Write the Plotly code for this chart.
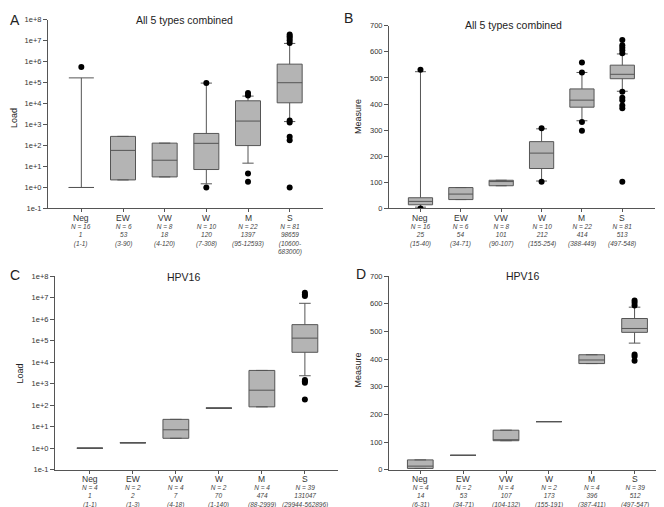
import plotly.graph_objects as go

# ============================================
# DATOS
# ============================================

CATS = ["Neg", "EW", "VW", "W", "M", "S"]

# --- Panel A: Load, todos los tipos ---
A_N = [16, 6, 8, 10, 22, 81]
A_MED_TXT = ["1", "53", "18", "120", "1397", "98659"]
A_RNG_TXT = ["(1-1)", "(3-90)", "(4-120)", "(7-308)", "(95-12593)", "(10600-|683000)"]
A_Q1 = [1, 2.3, 3.2, 7.2, 100, 1.1e4]
A_MED = [1, 59, 20, 128, 1480, 1.0e5]
A_Q3 = [1, 275, 131, 380, 1.37e4, 7.7e5]
A_LO = [1, 2.3, 3.2, 1.5, 14.5, 1400]
A_HI = [1.7e5, 275, 131, 9.6e4, 2.3e4, 7.5e6]
A_OUT = [[5.6e5], [], [], [9.8e4, 1.0], [3.2e4, 2.45e4, 4.7, 1.9],
         [2.0e7, 1.66e7, 1.38e7, 1.05e7, 7.8e6, 1580, 1260, 263, 182, 1.0]]

# --- Panel B: Measure, todos los tipos ---
B_N = [16, 6, 8, 10, 22, 81]
B_MED_TXT = ["25", "54", "101", "212", "414", "513"]
B_RNG_TXT = ["(15-40)", "(34-71)", "(90-107)", "(155-254)", "(388-449)", "(497-548)"]
B_Q1 = [14, 34, 87, 153, 388, 497]
B_MED = [27, 55, 103, 212, 415, 514]
B_Q3 = [41, 80, 108, 256, 458, 549]
B_LO = [5, 34, 87, 105, 336, 449]
B_HI = [524, 80, 108, 305, 521, 592]
B_OUT = [[531, 0], [], [], [307, 102], [559, 521, 331, 298],
         [645, 625, 616, 606, 595, 447, 424, 415, 394, 384, 102]]

# --- Panel C: Load, HPV16 ---
C_N = [4, 2, 4, 2, 4, 39]
C_MED_TXT = ["1", "2", "7", "70", "474", "131047"]
C_RNG_TXT = ["(1-1)", "(1-3)", "(4-18)", "(1-140)", "(88-2999)", "(29944-562896)"]
C_Q1 = [1, 1.8, 2.9, 73, 84, 2.9e4]
C_MED = [1, 1.8, 7.2, 73, 500, 1.32e5]
C_Q3 = [1, 1.8, 22, 73, 4150, 5.6e5]
C_LO = [1, 1.8, 2.9, 73, 84, 2350]
C_HI = [1, 1.8, 22, 73, 4150, 5.5e6]
C_OUT = [[], [], [], [], [], [1.7e7, 1.4e7, 1.2e7, 1480, 1300, 1100, 187]]

# --- Panel D: Measure, HPV16 ---
D_N = [4, 2, 4, 2, 4, 39]
D_MED_TXT = ["14", "53", "107", "173", "396", "512"]
D_RNG_TXT = ["(6-31)", "(34-71)", "(104-132)", "(155-191)", "(387-411)", "(497-547)"]
D_Q1 = [4.7, 52, 105, 174, 384, 497]
D_MED = [13, 52, 106, 174, 397, 511]
D_Q3 = [35.6, 52, 143, 174, 416, 547]
D_LO = [4.7, 52, 105, 174, 384, 458]
D_HI = [35.6, 52, 143, 174, 416, 588]
D_OUT = [[], [], [], [], [], [612, 604, 594, 417, 410, 394]]

LOG_TICKS = [0.1, 1, 10, 1e2, 1e3, 1e4, 1e5, 1e6, 1e7, 1e8]
LOG_TICK_TXT = ["1e-1", "1e+0", "1e+1", "1e+2", "1e+3", "1e+4", "1e+5", "1e+6", "1e+7", "1e+8"]
LIN_TICKS = [0, 100, 200, 300, 400, 500, 600, 700]

# ============================================
# ESTILO
# ============================================
FONT = "Liberation Sans, Arial, sans-serif"
FILL = "#b4b4b4"
EDGE = "#555555"
AXIS = "#555555"
W, H = 664, 507

fig = go.Figure()


def add_panel(xa, ya, q1, med, q3, lo, hi, outs):
    for i in range(len(CATS)):
        collapsed = q1[i] == q3[i]
        fig.add_trace(go.Box(
            x=[i], q1=[q1[i]], median=[med[i]], q3=[q3[i]],
            lowerfence=[lo[i]], upperfence=[hi[i]],
            width=0.6, whiskerwidth=1.0 if collapsed else 0.45,
            fillcolor=FILL, line=dict(color=EDGE, width=1),
            boxpoints=False, showlegend=False, hoverinfo="skip",
            xaxis=xa, yaxis=ya,
        ))
        if outs[i]:
            fig.add_trace(go.Scatter(
                x=[i] * len(outs[i]), y=outs[i], mode="markers",
                marker=dict(color="black", size=6),
                showlegend=False, hoverinfo="skip", xaxis=xa, yaxis=ya,
            ))


def add_cat_labels(xa, axis_y, n, med, rng):
    # nombre de la categoria + bloque en cursiva (N, mediana, rango)
    for i, c in enumerate(CATS):
        fig.add_annotation(
            text=c, x=i, xref=xa, y=(H - axis_y - 9.5) / H, yref="paper",
            showarrow=False, xanchor="center", yanchor="middle", borderpad=0,
            font=dict(family=FONT, size=8.5, color="#333"))
        lines = [f"<i>N = {n[i]}</i>", f"<i>{med[i]}</i>"]
        lines += [f"<i>{p}</i>" for p in rng[i].split("|")]
        fig.add_annotation(
            text="<br>".join(lines), x=i, xref=xa, y=(H - axis_y - 14) / H, yref="paper",
            showarrow=False, xanchor="center", yanchor="top", align="center",
            borderpad=0, font=dict(family=FONT, size=6.5, color="#444"))


add_panel("x", "y", A_Q1, A_MED, A_Q3, A_LO, A_HI, A_OUT)
add_panel("x2", "y2", B_Q1, B_MED, B_Q3, B_LO, B_HI, B_OUT)
add_panel("x3", "y3", C_Q1, C_MED, C_Q3, C_LO, C_HI, C_OUT)
add_panel("x4", "y4", D_Q1, D_MED, D_Q3, D_LO, D_HI, D_OUT)

add_cat_labels("x", 200, A_N, A_MED_TXT, A_RNG_TXT)
add_cat_labels("x2", 200, B_N, B_MED_TXT, B_RNG_TXT)
add_cat_labels("x3", 466, C_N, C_MED_TXT, C_RNG_TXT)
add_cat_labels("x4", 466, D_N, D_MED_TXT, D_RNG_TXT)


def px_x(a, b):
    return [a / W, b / W]


def px_y(top, bottom):
    return [(H - bottom) / H, (H - top) / H]


xbase = dict(showline=True, linecolor=AXIS, linewidth=1, ticks="outside", ticklen=3,
             tickcolor=AXIS, showgrid=False, zeroline=False, tickvals=list(range(6)),
             showticklabels=False, fixedrange=True)
ybase = dict(showline=True, linecolor=AXIS, linewidth=1, ticks="outside", ticklen=4,
             tickcolor=AXIS, showgrid=False, zeroline=False,
             tickfont=dict(family=FONT, size=7.5, color="#333"), fixedrange=True)
ylog = dict(ybase, type="log", range=[-1, 8], tickvals=LOG_TICKS, ticktext=LOG_TICK_TXT)
ylin = dict(ybase, range=[0, 700], tickvals=LIN_TICKS)

fig.update_layout(
    width=W, height=H, margin=dict(l=0, r=0, t=0, b=0),
    paper_bgcolor="white", plot_bgcolor="white",
    font=dict(family=FONT, color="#222"),
    xaxis=dict(xbase, domain=px_x(40, 315), range=[-0.8, 5.8], anchor="y"),
    yaxis=dict(ylog, domain=px_y(8, 200), anchor="x"),
    xaxis2=dict(xbase, domain=px_x(381, 647), range=[-0.78, 5.81], anchor="y2"),
    yaxis2=dict(ylin, domain=px_y(14, 200), anchor="x2"),
    xaxis3=dict(xbase, domain=px_x(47, 330), range=[-0.81, 5.77], anchor="y3"),
    yaxis3=dict(ylog, domain=px_y(269, 466), anchor="x3"),
    xaxis4=dict(xbase, domain=px_x(381, 660), range=[-0.73, 5.78], anchor="y4"),
    yaxis4=dict(ylin, domain=px_y(269, 466), anchor="x4"),
)

# ============================================
# TEXTOS: letras, titulos, ejes
# ============================================
texts = [
    # (texto, x px, y px, size, angle)
    ("A", 7, 8, 14, 0), ("B", 341, 6, 14, 0), ("C", 7, 268, 14, 0), ("D", 353, 267, 14, 0),
    ("All 5 types combined", 176, 8, 10.5, 0), ("All 5 types combined", 505, 13, 10.5, 0),
    ("HPV16", 175, 270, 10.5, 0), ("HPV16", 514, 269, 10.5, 0),
    ("Load", 6, 108, 9, -90), ("Measure", 350, 107, 9, -90),
    ("Load", 12, 368, 9, -90), ("Measure", 350, 365, 9, -90),
]
for t, x, y, s, ang in texts:
    fig.add_annotation(text=t, x=x / W, y=(H - y) / H, xref="paper", yref="paper",
                       showarrow=False, textangle=ang, xanchor="center", yanchor="middle",
                       font=dict(family=FONT, size=s, color="#222"))

fig.write_html("out.html")
